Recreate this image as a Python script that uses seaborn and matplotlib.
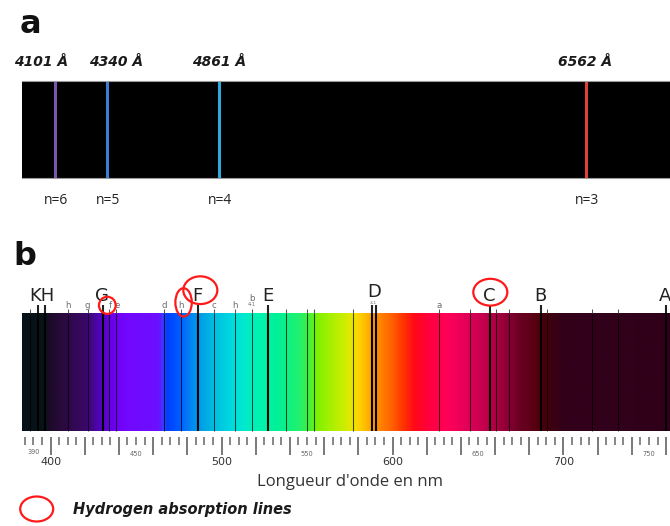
import numpy as np
import matplotlib
matplotlib.use("Agg")
import matplotlib.pyplot as plt
import seaborn as sns
from matplotlib.colors import LinearSegmentedColormap
from matplotlib.patches import Ellipse

# panel a: Balmer emission lines (Angstrom)
BALMER_A = [4101, 4340, 4861, 6562]
BALMER_N = ["n=6", "n=5", "n=4", "n=3"]
BALMER_COLORS = ["#7d55b0", "#3c7bd6", "#2ea9d9", "#e0403c"]
BALMER_LABEL_DX = [-10, 7, 0, -1]  # label nudge, points

# panel b: Fraunhofer absorption lines (nm)
LINE_NM = [388.0, 392.9, 396.8, 410.4, 421.7, 430.9, 434.2, 438.4, 466.2,
           476.1, 486.1, 495.8, 507.9, 517.6, 527.0, 537.5, 549.8, 554.3,
           577.1, 587.8, 590.2, 627.4, 645.3, 657.0, 660.4, 668.1, 686.7,
           690.2, 716.5, 732.0, 759.8]
STRONG_NM = [392.9, 396.8, 430.9, 486.1, 527.0, 587.8, 590.2, 657.0, 686.7, 759.8]
BIG_LABELS = ["KH", "G", "F", "E", "D", "C", "B", "A"]
BIG_LABEL_NM = [394.9, 429.8, 486.1, 527.0, 589.4, 656.4, 686.7, 759.2]
SMALL_LABELS = ["h", "g", "f", "e", "d", "h", "c", "h", "b", "a"]
SMALL_LABEL_NM = [410.4, 421.7, 434.8, 439.2, 466.5, 476.1, 495.8, 507.9, 517.6, 627.4]
# hydrogen circles: centre nm, centre height, width nm, height
H_CIRCLES = [(433.2, 1.065, 9.8, 0.145), (477.8, 1.09, 9.6, 0.24),
             (487.6, 1.193, 19.9, 0.235), (657.2, 1.176, 19.9, 0.227)]
BIG_TICK_LABELS = [400, 500, 600, 700]
SMALL_TICK_LABELS = [390, 450, 550, 650, 750]

# spectrum colour stops (nm, colour)
SPEC_NM = [383.3, 396.5, 397.5, 406, 420, 429, 437, 445, 463, 465.5, 468, 476,
           482, 488, 496, 505, 512, 522, 532, 545, 551, 556, 564, 574, 578,
           581, 586, 592, 600, 607, 613, 622, 632, 642, 652, 662, 670, 675,
           683, 688, 695, 700, 762.3]
SPEC_COL = ["#061218", "#081418", "#1a0a24", "#2a0a3c", "#3a0868", "#5204c0",
            "#6e00f0", "#7208ff", "#6c10ff", "#3040ff", "#0040ff", "#0060ff",
            "#0088f0", "#00a0e8", "#00c0e0", "#00d8e0", "#00e8d0", "#00f4b0",
            "#00f098", "#20f070", "#40f040", "#80f000", "#a8f000", "#d8ec00",
            "#f0e000", "#ffd000", "#ffb000", "#ff8800", "#ff6000", "#ff3000",
            "#ff0a18", "#ff0040", "#ff0058", "#e8005a", "#c80050", "#a80040",
            "#800030", "#6a0022", "#5a0014", "#4a0008", "#3a0012", "#33001a",
            "#30001a"]

sns.set_theme(style="white")
plt.rcParams["font.family"] = ["DejaVu Sans"]

W, H = 670, 526
fig = plt.figure(figsize=(W / 100, H / 100), dpi=100)
fig.patch.set_facecolor("white")

# ---- panel a ----
ax_a = fig.add_axes([22 / W, 1 - 178 / H, 1 - 22 / W, 97 / H])
ax_a.set_facecolor("black")
sns.rugplot(x=BALMER_A, hue=BALMER_N, palette=dict(zip(BALMER_N, BALMER_COLORS)),
            height=1.0, linewidth=2.2, legend=False, ax=ax_a)
ax_a.set_xlim(3948, 6951)
ax_a.set_ylim(0, 1)
ax_a.set_xticks([])
ax_a.set_yticks([])
for side in ["left", "right"]:
    ax_a.spines[side].set_visible(False)
for side in ["top", "bottom"]:
    ax_a.spines[side].set_color("#9a9a9a")
    ax_a.spines[side].set_linewidth(0.8)

for lam, n, dx in zip(BALMER_A, BALMER_N, BALMER_LABEL_DX):
    ax_a.annotate(f"{lam} Å", (lam, 1), xycoords=("data", "axes fraction"),
                  xytext=(dx, 13.5), textcoords="offset points", ha="center",
                  va="center", fontsize=10, fontweight="bold", style="italic",
                  color="#1a1a1a")
    ax_a.annotate(n, (lam, 0), xycoords=("data", "axes fraction"),
                  xytext=(1, -16.5), textcoords="offset points", ha="center",
                  va="center", fontsize=10, family=["Open Sans", "DejaVu Sans"],
                  color="#222222")

fig.text(20 / W, 1 - 33 / H, "a", fontsize=23, fontweight="bold", va="baseline",
         color="#111111")
fig.text(13 / W, 1 - 265 / H, "b", fontsize=23, fontweight="bold", va="baseline",
         color="#111111")

# ---- panel b ----
ax_b = fig.add_axes([22 / W, 1 - 437 / H, 1 - 22 / W, 124 / H])
lo, hi = SPEC_NM[0], SPEC_NM[-1]
stops = [((v - lo) / (hi - lo), c) for v, c in zip(SPEC_NM, SPEC_COL)]
cmap = LinearSegmentedColormap.from_list("spectrum", stops)
xs = np.linspace(0, 1, 1200)
ax_b.imshow(cmap(xs)[None, :, :], extent=[lo, hi, 0, 1], aspect="auto",
            interpolation="bilinear")
ax_b.set_xlim(lo, hi)
ax_b.set_ylim(-0.05, 1)
ax_b.set_yticks([])
for side in ax_b.spines:
    ax_b.spines[side].set_visible(False)

for nm in LINE_NM:
    strong = nm in STRONG_NM
    top = 1.067 if strong else 1.034
    ax_b.vlines(nm, 0, 1, colors="black", linewidth=1.5 if strong else 0.75,
                alpha=1.0 if strong else 0.7, zorder=3)
    ax_b.vlines(nm, 1, top, colors="#222222" if strong else "#555555",
                linewidth=1.5 if strong else 0.75, clip_on=False, zorder=3)

for lab, nm in zip(BIG_LABELS, BIG_LABEL_NM):
    y = 1.135 if lab == "D" else 1.10
    ax_b.text(nm, y, lab, ha="center", va="baseline", fontsize=13,
              color="#222222", clip_on=False)
for lab, nm in zip(SMALL_LABELS, SMALL_LABEL_NM):
    y = 1.10 if lab == "b" else 1.045
    ax_b.text(nm, y, lab, ha="center", va="baseline", fontsize=6.2,
              color="#6a6a6a", clip_on=False)
ax_b.text(517.6, 1.07, "4-1", ha="center", va="center", fontsize=3.5,
          color="#6a6a6a", clip_on=False)
ax_b.text(589.0, 1.085, "3-1", ha="center", va="center", fontsize=3.2,
          color="#6a6a6a", clip_on=False)

for cx, cy, w, h in H_CIRCLES:
    ax_b.add_patch(Ellipse((cx, cy), w, h, fill=False, edgecolor="#ff1a1a",
                           linewidth=1.6, clip_on=False, zorder=5))

ax_b.set_xticks(np.arange(400, 761, 20))
ax_b.set_xticks(np.arange(385, 761, 5), minor=True)
ax_b.tick_params(axis="x", which="major", length=13, width=1.1, color="#555555",
                 direction="out", bottom=True, labelbottom=False)
ax_b.tick_params(axis="x", which="minor", length=6, width=1.1, color="#666666",
                 direction="out", bottom=True)
for v in BIG_TICK_LABELS:
    ax_b.annotate(str(v), (v, 0), xycoords=("data", "axes fraction"),
                  xytext=(0, -18), textcoords="offset points", ha="center",
                  va="center", fontsize=8, color="#333333")
for v in SMALL_TICK_LABELS:
    dy = -11 if v == 390 else -12.6
    ax_b.annotate(str(v), (v, 0), xycoords=("data", "axes fraction"),
                  xytext=(0, dy), textcoords="offset points", ha="center",
                  va="center", fontsize=4.8, color="#666666")

fig.text(350 / W, 1 - 482 / H, "Longueur d'onde en nm", ha="center", va="center",
         fontsize=12, family=["Open Sans", "DejaVu Sans"], color="#333333")

# legend
fig.patches.append(Ellipse((36.7 / W, 1 - 509 / H), 33 / W, 25 / H, fill=False,
                           edgecolor="#ff1a1a", linewidth=1.6,
                           transform=fig.transFigure, figure=fig))
fig.text(72.7 / W, 1 - 509.5 / H, "Hydrogen absorption lines", ha="left",
         va="center", fontsize=10.5, fontweight="bold", style="italic",
         color="#1a1a1a")

fig.savefig("out.png", dpi=100)
